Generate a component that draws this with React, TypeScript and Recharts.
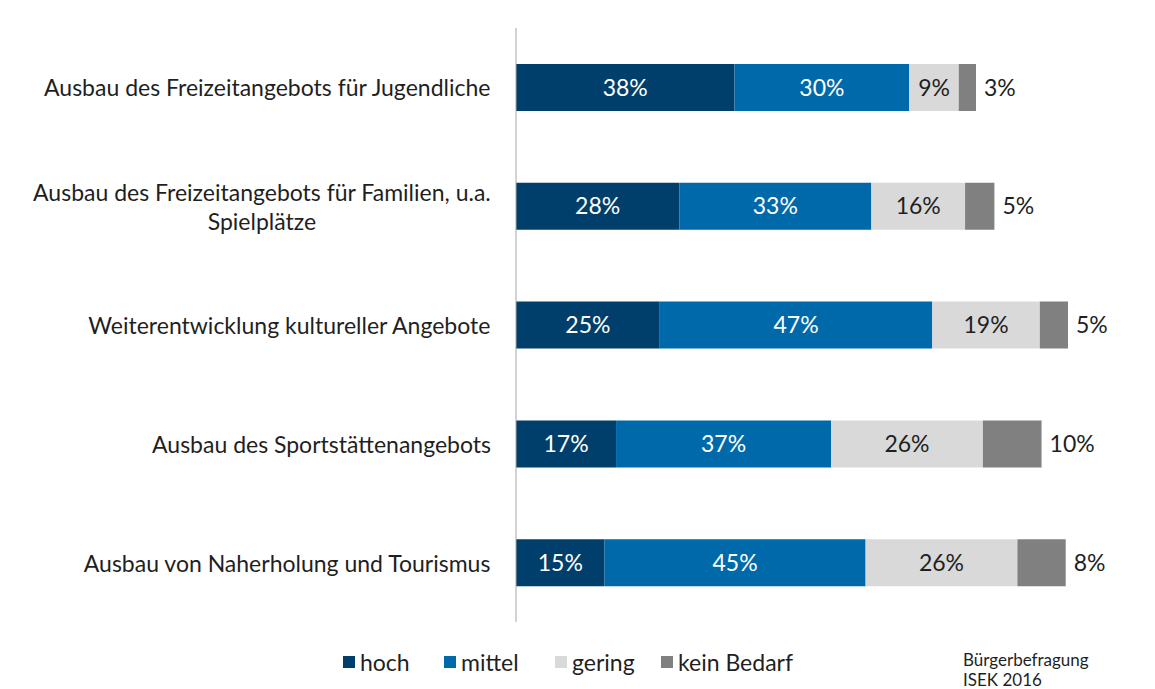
import { BarChart, Bar, XAxis, YAxis, LabelList } from "recharts";

const categories = [
  ["Ausbau des Freizeitangebots für Jugendliche"],
  ["Ausbau des Freizeitangebots für Familien, u.a.", "Spielplätze"],
  ["Weiterentwicklung kultureller Angebote"],
  ["Ausbau des Sportstättenangebots"],
  ["Ausbau von Naherholung und Tourismus"],
];
const hoch = [38.0, 28.4, 25.0, 17.4, 15.4];
const mittel = [30.4, 33.4, 47.4, 37.4, 45.4];
const gering = [8.6, 16.3, 18.7, 26.4, 26.4];
const keinBedarf = [3.0, 5.1, 4.9, 10.2, 8.4];

const seriesNames = ["hoch", "mittel", "gering", "kein Bedarf"];
const colors = ["#003F6B", "#0069AA", "#D9D9D9", "#808080"];
const legendLeft = [343, 444, 555, 661];

const FONT = "Lato, 'Open Sans', sans-serif";
const FS = 23;
const TEXT = "#1f1f1f";

const data = categories.map((lines, i) => ({
  name: lines.join(" "),
  hoch: hoch[i],
  mittel: mittel[i],
  gering: gering[i],
  keinBedarf: keinBedarf[i],
}));

let ctx: CanvasRenderingContext2D | null = null;
const measure = (s: string) => {
  if (!ctx) ctx = document.createElement("canvas").getContext("2d");
  if (!ctx) return s.length * 10;
  ctx.font = `${FS}px Lato`;
  return ctx.measureText(s).width;
};

const CategoryTick = ({ x, y, index }: any) => {
  const lines = categories[index] || [];
  const w = Math.max(...lines.map(measure));
  const cx = x - 17 - w / 2;
  const lh = 29;
  const top = y - ((lines.length - 1) * lh) / 2;
  return (
    <text
      textAnchor="middle"
      fontFamily={FONT}
      fontSize={FS}
      fill={TEXT}
      dominantBaseline="central"
    >
      {lines.map((l, k) => (
        <tspan key={k} x={cx} y={top + k * lh}>
          {l}
        </tspan>
      ))}
    </text>
  );
};

const pct = (v: any) => `${Math.round(Number(v))}%`;

export default function App() {
  return (
    <div style={{ position: "absolute", left: 0, top: 0, width: 1155, height: 689 }}>
      <BarChart
        width={1155}
        height={689}
        data={data}
        layout="vertical"
        barSize={47}
        margin={{ top: 28, right: 64, bottom: 67, left: 0 }}
      >
        <XAxis type="number" domain={[0, 100]} hide />
        <YAxis
          type="category"
          dataKey="name"
          width={516}
          tickLine={false}
          axisLine={{ stroke: "#A6A6A6", strokeWidth: 1 }}
          tick={<CategoryTick />}
          interval={0}
        />
        <Bar dataKey="hoch" stackId="a" fill={colors[0]} isAnimationActive={false}>
          <LabelList
            dataKey="hoch"
            position="center"
            formatter={pct}
            fill="#ffffff"
            fontFamily={FONT}
            fontSize={FS}
          />
        </Bar>
        <Bar dataKey="mittel" stackId="a" fill={colors[1]} isAnimationActive={false}>
          <LabelList
            dataKey="mittel"
            position="center"
            formatter={pct}
            fill="#ffffff"
            fontFamily={FONT}
            fontSize={FS}
          />
        </Bar>
        <Bar dataKey="gering" stackId="a" fill={colors[2]} isAnimationActive={false}>
          <LabelList
            dataKey="gering"
            position="center"
            formatter={pct}
            fill={TEXT}
            fontFamily={FONT}
            fontSize={FS}
          />
        </Bar>
        <Bar
          dataKey="keinBedarf"
          name="kein Bedarf"
          stackId="a"
          fill={colors[3]}
          isAnimationActive={false}
        >
          <LabelList
            dataKey="keinBedarf"
            position="right"
            offset={8}
            formatter={pct}
            fill={TEXT}
            fontFamily={FONT}
            fontSize={FS}
          />
        </Bar>
      </BarChart>
      {seriesNames.map((n, i) => (
        <div
          key={n}
          style={{
            position: "absolute",
            left: legendLeft[i],
            top: 648,
            height: 28,
            display: "flex",
            alignItems: "center",
            fontFamily: FONT,
            fontSize: FS,
            color: TEXT,
            whiteSpace: "nowrap",
          }}
        >
          <span
            style={{
              width: 12,
              height: 12,
              background: colors[i],
              marginRight: 5,
              display: "inline-block",
            }}
          />
          {n}
        </div>
      ))}
      <div
        style={{
          position: "absolute",
          left: 963,
          top: 650,
          fontFamily: FONT,
          fontSize: 17,
          lineHeight: "20px",
          color: TEXT,
        }}
      >
        Bürgerbefragung
        <br />
        ISEK 2016
      </div>
    </div>
  );
}
